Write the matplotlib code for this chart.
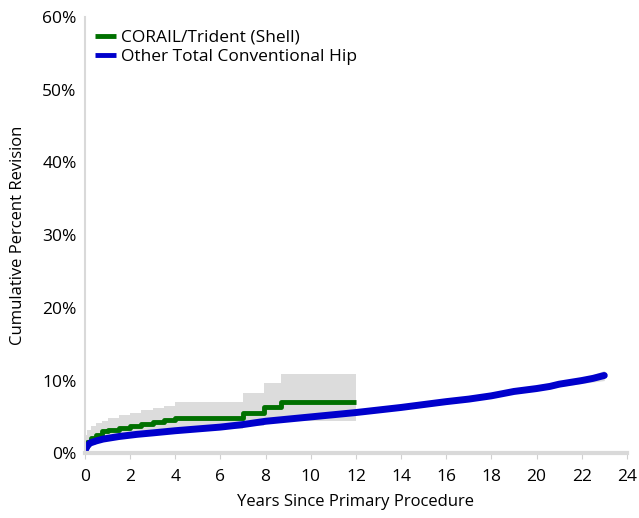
import numpy as np
import matplotlib.pyplot as plt

plt.rcParams['font.family'] = ['Open Sans', 'DejaVu Sans']

# CORAIL/Trident (Shell) - step curve, years and cumulative percent revision
corail_years = [0, 0.1, 0.25, 0.5, 0.75, 1.0, 1.5, 2.0, 2.5, 3.0, 3.5, 4.0, 7.0, 7.95, 8.7, 12.0]
corail_cpr = [0.8, 1.5, 2.1, 2.5, 3.0, 3.2, 3.5, 3.8, 4.0, 4.3, 4.6, 4.9, 5.6, 6.3, 7.1, 7.1]
corail_lo = [0.2, 0.7, 1.2, 1.5, 1.9, 2.1, 2.3, 2.6, 2.8, 3.0, 3.2, 3.4, 3.8, 4.2, 4.4, 4.4]
corail_hi = [2.5, 3.2, 3.7, 4.1, 4.5, 4.9, 5.3, 5.6, 5.9, 6.2, 6.5, 7.1, 8.3, 9.6, 10.9, 10.9]

# Other Total Conventional Hip
other_years = [0, 0.05, 0.1, 0.22, 0.5, 0.8, 1.5, 2.3, 3.0, 4.0, 5.0, 6.0, 7.0, 8.0, 9.0, 10.0, 11.0, 12.0,
               13.0, 14.0, 15.0, 16.0, 17.0, 18.0, 19.0, 20.0, 20.6, 21.0, 22.0, 22.5, 23.0]
other_cpr = [0.3, 0.7, 1.0, 1.4, 1.7, 1.95, 2.3, 2.6, 2.8, 3.1, 3.35, 3.6, 3.95, 4.4, 4.7, 5.0, 5.3, 5.6,
             5.95, 6.3, 6.7, 7.1, 7.45, 7.9, 8.5, 8.9, 9.2, 9.5, 10.0, 10.3, 10.7]
other_band = [0.1, 0.1, 0.1, 0.1, 0.1, 0.1, 0.1, 0.1, 0.1, 0.1, 0.1, 0.1, 0.1, 0.1, 0.1, 0.1, 0.1, 0.1,
              0.1, 0.15, 0.15, 0.15, 0.2, 0.2, 0.25, 0.3, 0.3, 0.35, 0.4, 0.5, 0.7]

yticks = [0, 10, 20, 30, 40, 50, 60]
xticks = list(range(0, 26, 2))

fig = plt.figure(figsize=(6.39, 5.18), dpi=100)
ax = fig.add_axes([0.133, 0.125, 0.848, 0.842])

oy = np.array(other_years)
oc = np.array(other_cpr)
ob = np.array(other_band)
ax.fill_between(oy, oc - ob, oc + ob, color='#dcdcdc', lw=0)
ax.fill_between(corail_years, corail_lo, corail_hi, step='post', color='#dcdcdc', lw=0)

ax.step(corail_years, corail_cpr, where='post', color='#007000', lw=3.5,
        label='CORAIL/Trident (Shell)', solid_capstyle='butt')
ax.plot(oy, oc, color='#0000cc', lw=5, label='Other Total Conventional Hip',
        solid_capstyle='round')

ax.set_xlim(0, 24)
ax.set_ylim(0, 60)
ax.set_yticks(yticks)
ax.set_yticklabels([f'{v}%' for v in yticks])
ax.set_xticks(xticks)
ax.tick_params(axis='y', length=0, labelsize=12.5, pad=6)
ax.tick_params(axis='x', length=4, color='#d0d0d0', labelsize=12.5, pad=7)
ax.set_ylabel('Cumulative Percent Revision', fontsize=12)
ax.yaxis.set_label_coords(-0.108, 0.5)
ax.set_xlabel('Years Since Primary Procedure', fontsize=12, labelpad=7)

for s in ['top', 'right']:
    ax.spines[s].set_visible(False)
ax.spines['left'].set_color('#d9d9d9')
ax.spines['left'].set_linewidth(1.5)
ax.spines['bottom'].set_color('#d9d9d9')
ax.spines['bottom'].set_linewidth(3)

leg = ax.legend(loc='upper left', bbox_to_anchor=(0.0, 0.995), frameon=False, fontsize=12.5,
                handlelength=1.2, handletextpad=0.3, labelspacing=0.15, borderaxespad=0.2)
for h in leg.get_lines():
    h.set_linewidth(3.5)
    h.set_solid_capstyle('butt')

fig.savefig('out.png', dpi=100)
